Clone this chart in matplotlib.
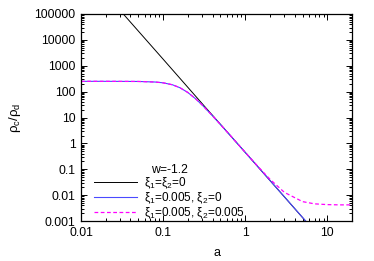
import numpy as np
import matplotlib
matplotlib.use("Agg")
import matplotlib.pyplot as plt
from matplotlib.ticker import LogLocator, FixedLocator, NullFormatter

plt.rcParams['font.family'] = ['Liberation Sans', 'DejaVu Sans']
plt.rcParams['mathtext.fontset'] = 'custom'
plt.rcParams['mathtext.rm'] = 'Liberation Sans'
plt.rcParams['mathtext.it'] = 'Liberation Sans'

# values (log-log axes)
a_black = [0.01, 0.03, 0.1, 0.3, 1.0, 3.0, 10.0, 20.0]
rho_black = [7.1e6, 1.37e5, 1.8e3, 34.0, 0.45, 8.6e-3, 1.1e-4, 9.3e-6]

a_xi = [0.01, 0.02, 0.05, 0.08, 0.1, 0.13, 0.16, 0.2, 0.25, 0.3, 0.4, 0.5,
        0.7, 1.0, 1.5, 2.0, 3.0, 5.0, 7.0, 10.0, 14.0, 20.0]
rho_blue = [250, 250, 247, 235, 219, 184, 142, 92.8, 52.3, 30.2, 11.6, 5.34,
            1.62, 0.449, 0.105, 0.0371, 0.00862, 0.00137, 4.1e-4, 1.13e-4,
            3.4e-5, 9.3e-6]
rho_magenta = [250, 250, 247, 235, 219, 184, 142, 92.8, 52.3, 30.2, 11.6, 5.34,
               1.62, 0.453, 0.109, 0.0413, 0.0128, 0.0056, 0.0046, 0.0043,
               0.0042, 0.0042]

x_ticks = [0.01, 0.1, 1, 10]
x_labels = ["0.01", "0.1", "1", "10"]
y_ticks = [0.001, 0.01, 0.1, 1, 10, 100, 1000, 10000, 100000]
y_labels = ["0.001", "0.01", "0.1", "1", "10", "100", "1000", "10000", "100000"]

fig = plt.figure(figsize=(3.74, 2.61), dpi=100)
ax = fig.add_axes([81/374, 1 - 221/261, (352 - 81)/374, (221 - 14)/261])

ax.plot(a_black, rho_black, color="black", lw=0.7, label=r"$\xi_1$=$\xi_2$=0")
ax.plot(a_xi, rho_blue, color="#4a4aff", lw=0.8, label=r"$\xi_1$=0.005, $\xi_2$=0")
ax.plot(a_xi, rho_magenta, color="#ff00ff", lw=0.9, ls=(0, (3, 2)),
        label=r"$\xi_1$=0.005, $\xi_2$=0.005")

ax.set_xscale("log")
ax.set_yscale("log")
ax.set_xlim(0.01, 20)
ax.set_ylim(0.001, 100000)

ax.xaxis.set_major_locator(FixedLocator(x_ticks))
ax.set_xticklabels(x_labels)
ax.yaxis.set_major_locator(FixedLocator(y_ticks))
ax.set_yticklabels(y_labels)
ax.xaxis.set_minor_locator(LogLocator(base=10, subs=np.arange(2, 10), numticks=20))
ax.yaxis.set_minor_locator(LogLocator(base=10, subs=np.arange(2, 10), numticks=20))
ax.xaxis.set_minor_formatter(NullFormatter())
ax.yaxis.set_minor_formatter(NullFormatter())

ax.tick_params(which="both", direction="in", top=True, right=True, labelsize=8.8,
               width=0.7, pad=4)
ax.tick_params(which="major", length=4)
ax.tick_params(which="minor", length=2)
for sp in ax.spines.values():
    sp.set_linewidth(0.9)

ax.set_xlabel("a", fontsize=9, labelpad=6)
ax.set_ylabel(r"$\rho_c/\rho_d$", fontsize=9.5, labelpad=8)

# gnuplot-like key: no frame, samples on the left, tight rows
leg = ax.legend(title="w=-1.2", loc="lower left", bbox_to_anchor=(0.02, -0.035),
                frameon=False, fontsize=8.5, title_fontsize=8.8,
                handlelength=3.7, handletextpad=0.6, labelspacing=-0.02,
                borderaxespad=0.2)
leg._legend_box.align = "center"

fig.savefig("out.png", dpi=100)
